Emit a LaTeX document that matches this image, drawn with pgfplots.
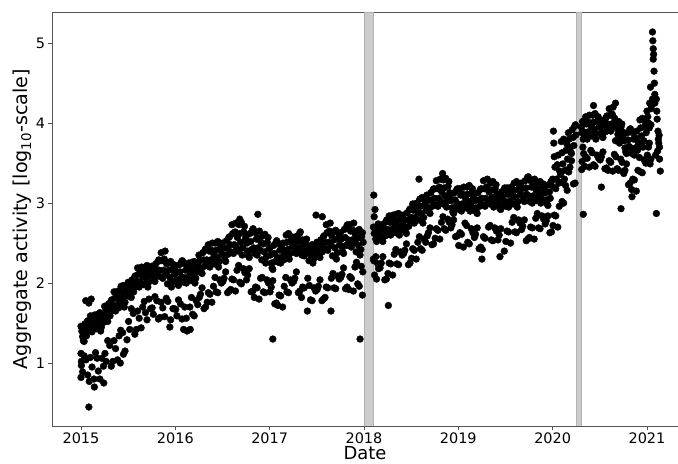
\documentclass[border=0pt]{standalone}
\usepackage{fontspec}
\setmainfont{DejaVu Sans}
\usepackage{pgfplots}
\pgfplotsset{compat=1.18}
\usetikzlibrary{calc}
\definecolor{bandgray}{HTML}{CCCCCC}
\definecolor{axgray}{HTML}{555555}
\begin{document}
\begin{tikzpicture}
\begin{axis}[
  scale only axis,
  width=626bp, height=414bp,
  xmin=-3.69, xmax=75.95,
  ymin=0.2125, ymax=5.39,
  xtick={0,12,24,36,48,60,72},
  xticklabels={2015,2016,2017,2018,2019,2020,2021},
  ytick={1,2,3,4,5},
  tick align=outside, tick pos=left,
  major tick length=3.5bp,
  every tick/.style={axgray, line width=0.8pt},
  axis line style={axgray, line width=0.8pt},
  /pgf/number format/assume math mode=true,
  ticklabel style={font=\fontsize{14.5}{16}\selectfont},
  xlabel={Date},
  ylabel={Aggregate activity [log\textsubscript{10}-scale]},
  xlabel style={font=\fontsize{18}{20}\selectfont, yshift=4bp},
  ylabel style={font=\fontsize{19.2}{21}\selectfont, yshift=-3bp},
  clip=true,
]
\coordinate (sw) at (rel axis cs:0,0);
\coordinate (ne) at (rel axis cs:1,1);
\addplot[fill=bandgray, draw=black!30, line width=0.4pt] coordinates {(36.05,0.2125)(37.15,0.2125)(37.15,5.39)(36.05,5.39)} \closedcycle;
\addplot[fill=bandgray, draw=black!30, line width=0.4pt] coordinates {(62.98,0.2125)(63.58,0.2125)(63.58,5.39)(62.98,5.39)} \closedcycle;
\addplot[only marks, mark=*, mark size=3.4bp, black] coordinates {
(0.0,0.82)(0.05,1.02)(0.0,1.12)(0.1,1.45)(0.6,1.78)(1.0,1.75)(1.3,1.80)(1.0,0.45)
(0.1,1.40)(0.3,1.28)(0.5,1.49)(0.7,1.34)(0.9,1.53)(0.2,0.89)(0.65,1.04)
(1.1,1.40)(1.3,1.53)(1.5,1.45)(1.7,1.60)(1.9,1.50)(1.2,1.07)(1.65,0.80)
(2.1,1.61)(2.3,1.49)(2.5,1.40)(2.7,1.56)(2.9,1.51)(2.2,0.90)(2.65,1.06)(2.9,0.75)(1.7,0.70)
(3.1,1.65)(3.3,1.53)(3.5,1.74)(3.7,1.59)(3.9,1.79)(3.2,1.02)(3.65,1.22)
(4.1,1.66)(4.3,1.81)(4.5,1.72)(4.7,1.90)(4.9,1.78)(4.2,1.28)(4.65,1.04)
(5.1,1.96)(5.3,1.81)(5.5,1.70)(5.7,1.90)(5.9,1.84)(5.0,1.00)(5.6,1.15)(5.3,1.38)
(6.1,1.95)(6.3,1.83)(6.5,2.04)(6.7,1.89)(6.9,2.09)(6.2,1.42)(6.65,1.62)
(7.1,1.96)(7.3,2.11)(7.5,2.02)(7.7,2.20)(7.9,2.08)(7.2,1.65)(7.65,1.44)
(8.1,2.20)(8.3,2.06)(8.5,1.95)(8.7,2.15)(8.9,2.09)(8.2,1.63)(8.65,1.80)
(9.1,2.15)(9.3,2.03)(9.5,2.24)(9.7,2.09)(9.9,2.29)(9.2,1.61)(9.65,1.78)
(10.1,2.08)(10.3,2.28)(10.5,2.16)(10.7,2.40)(10.9,2.24)(10.2,1.76)(10.65,1.58)
(11.1,2.25)(11.3,2.07)(11.5,1.95)(11.7,2.18)(11.9,2.11)(11.3,1.45)(11.7,1.68)
(12.1,2.13)(12.3,1.99)(12.5,2.23)(12.7,2.06)(12.9,2.28)(12.2,1.59)(12.65,1.74)
(13.1,2.01)(13.3,2.16)(13.5,2.07)(13.7,2.25)(13.9,2.13)(13.5,1.40)(13.9,1.42)(13.2,1.70)
(14.1,2.26)(14.3,2.11)(14.5,2.00)(14.7,2.20)(14.9,2.14)(14.2,1.61)(14.65,1.78)
(15.1,2.28)(15.3,2.14)(15.5,2.38)(15.7,2.21)(15.9,2.43)(15.2,1.86)(15.65,1.68)
(16.1,2.22)(16.3,2.40)(16.5,2.29)(16.7,2.50)(16.9,2.36)(16.2,1.88)(16.65,1.76)
(17.1,2.50)(17.3,2.32)(17.5,2.20)(17.7,2.43)(17.9,2.36)(17.2,1.89)(17.65,2.04)
(18.1,2.43)(18.3,2.29)(18.5,2.53)(18.7,2.36)(18.9,2.58)(18.2,2.06)(18.65,1.88)
(19.1,2.39)(19.3,2.62)(19.5,2.48)(19.7,2.75)(19.9,2.57)(19.2,2.05)(19.65,1.90)
(20.1,2.73)(20.3,2.51)(20.5,2.35)(20.7,2.64)(20.9,2.55)(20.2,2.01)(20.65,2.18)(20.2,2.80)
(21.1,2.50)(21.3,2.34)(21.5,2.62)(21.7,2.42)(21.9,2.68)(21.2,2.10)(21.65,1.89)
(22.1,2.37)(22.3,2.55)(22.5,2.44)(22.7,2.65)(22.9,2.51)(22.2,1.95)(22.65,1.80)(22.5,2.86)
(23.1,2.59)(23.3,2.39)(23.5,2.25)(23.7,2.51)(23.9,2.43)(23.2,1.89)(23.65,2.04)
(24.1,2.35)(24.3,2.19)(24.5,2.47)(24.7,2.27)(24.9,2.53)(24.2,1.95)(24.65,1.74)(24.4,1.30)
(25.1,2.26)(25.3,2.41)(25.5,2.32)(25.7,2.50)(25.9,2.38)(25.2,1.85)(25.65,1.70)
(26.1,2.60)(26.3,2.42)(26.5,2.30)(26.7,2.53)(26.9,2.46)(26.2,1.89)(26.65,2.04)
(27.1,2.50)(27.3,2.38)(27.5,2.59)(27.7,2.44)(27.9,2.64)(27.2,2.06)(27.65,1.88)
(28.1,2.35)(28.3,2.48)(28.5,2.40)(28.7,2.55)(28.9,2.45)(28.2,1.95)(28.8,1.65)
(29.1,2.46)(29.3,2.34)(29.5,2.25)(29.7,2.41)(29.9,2.36)(29.2,1.79)(29.65,1.94)(29.9,2.85)
(30.1,2.45)(30.3,2.33)(30.5,2.54)(30.7,2.39)(30.9,2.59)(30.2,1.96)(30.65,1.78)(30.7,2.83)
(31.1,2.43)(31.3,2.63)(31.5,2.51)(31.7,2.75)(31.9,2.59)(31.2,1.95)(31.8,1.65)
(32.1,2.64)(32.3,2.44)(32.5,2.30)(32.7,2.56)(32.9,2.48)(32.2,1.94)(32.65,2.09)
(33.1,2.55)(33.3,2.39)(33.5,2.67)(33.7,2.47)(33.9,2.73)(33.2,2.11)(33.65,1.93)
(34.1,2.47)(34.3,2.65)(34.5,2.54)(34.7,2.75)(34.9,2.61)(34.2,2.08)(34.65,1.90)
(35.1,2.65)(35.3,2.47)(35.5,2.35)(35.7,2.58)(35.9,2.51)(35.2,1.99)(35.65,2.21)(35.5,1.30)(35.8,1.85)
(37.25,3.10)(37.4,2.92)(37.3,2.83)(37.3,2.62)(37.5,2.55)(37.7,2.71)(37.9,2.58)(37.35,2.10)(37.75,2.24)(37.5,2.33)
(38.1,2.65)(38.3,2.53)(38.5,2.74)(38.7,2.59)(38.9,2.79)(38.2,2.25)(38.65,2.04)
(39.1,2.61)(39.3,2.76)(39.5,2.67)(39.7,2.85)(39.9,2.73)(39.2,2.25)(39.65,2.10)(39.1,1.72)
(40.1,2.86)(40.3,2.71)(40.5,2.60)(40.7,2.80)(40.9,2.74)(40.2,2.24)(40.65,2.39)
(41.1,2.78)(41.3,2.64)(41.5,2.88)(41.7,2.71)(41.9,2.93)(41.2,2.41)(41.65,2.23)
(42.1,2.76)(42.3,2.91)(42.5,2.82)(42.7,3.00)(42.9,2.88)(42.2,2.43)(42.65,2.30)
(43.1,3.05)(43.3,2.87)(43.5,2.75)(43.7,2.98)(43.9,2.91)(43.2,2.43)(43.65,2.55)(43.0,3.30)
(44.1,3.03)(44.3,2.89)(44.5,3.13)(44.7,2.96)(44.9,3.18)(44.2,2.63)(44.65,2.48)
(45.1,2.98)(45.3,3.18)(45.5,3.06)(45.7,3.30)(45.9,3.14)(45.2,2.68)(45.65,2.55)
(46.1,3.29)(46.3,3.09)(46.5,2.95)(46.7,3.21)(46.9,3.13)(46.2,2.68)(46.65,2.80)(46.0,3.37)
(47.1,3.03)(47.3,2.89)(47.5,3.13)(47.7,2.96)(47.9,3.18)(47.2,2.73)(47.65,2.58)
(48.1,2.92)(48.3,3.10)(48.5,2.99)(48.7,3.20)(48.9,3.06)(48.2,2.63)(48.65,2.45)
(49.1,3.20)(49.3,3.02)(49.5,2.90)(49.7,3.13)(49.9,3.06)(49.2,2.51)(49.65,2.68)
(50.1,3.03)(50.3,2.89)(50.5,3.13)(50.7,2.96)(50.9,3.18)(50.2,2.61)(50.65,2.43)
(51.1,2.98)(51.3,3.18)(51.5,3.06)(51.7,3.30)(51.9,3.14)(51.2,2.58)(51.0,2.30)
(52.1,3.25)(52.3,3.07)(52.5,2.95)(52.7,3.18)(52.9,3.11)(52.2,2.54)(52.65,2.69)
(53.1,3.05)(53.3,2.93)(53.5,3.14)(53.7,2.99)(53.9,3.19)(53.2,2.60)(53.3,2.33)
(54.1,2.96)(54.3,3.11)(54.5,3.02)(54.7,3.20)(54.9,3.08)(54.2,2.65)(54.65,2.50)
(55.1,3.25)(55.3,3.07)(55.5,2.95)(55.7,3.18)(55.9,3.11)(55.2,2.64)(55.65,2.79)
(56.1,3.18)(56.3,3.04)(56.5,3.28)(56.7,3.11)(56.9,3.33)(56.2,2.71)(56.65,2.53)
(57.1,3.02)(57.3,3.20)(57.5,3.09)(57.7,3.30)(57.9,3.16)(57.2,2.70)(57.65,2.55)
(58.1,3.26)(58.3,3.11)(58.5,3.00)(58.7,3.20)(58.9,3.14)(58.2,2.69)(58.65,2.84)
(59.1,3.13)(59.3,2.99)(59.5,3.23)(59.7,3.06)(59.9,3.28)(59.2,2.78)(59.65,2.63)
(60.1,3.20)(60.3,3.45)(60.5,3.30)(60.7,3.60)(60.9,3.40)(60.2,2.85)(60.65,2.70)(60.1,3.90)(60.15,3.75)
(61.1,3.77)(61.3,3.49)(61.5,3.30)(61.7,3.66)(61.9,3.55)(61.2,3.02)(61.65,3.22)
(62.1,3.80)(62.3,3.64)(62.5,3.92)(62.7,3.72)(62.9,3.98)(62.2,3.45)(62.65,3.24)
(63.7,3.88)(63.8,4.02)(63.9,3.80)(63.75,3.52)(63.95,3.62)(63.9,2.86)
(64.1,3.82)(64.3,3.99)(64.5,3.89)(64.7,4.10)(64.9,3.96)(64.2,3.58)(64.65,3.45)
(65.1,4.10)(65.3,3.92)(65.5,3.80)(65.7,4.03)(65.9,3.96)(65.2,3.48)(65.65,3.60)(65.2,4.22)
(66.1,3.95)(66.3,3.83)(66.5,4.04)(66.7,3.89)(66.9,4.09)(66.2,3.58)(66.65,3.43)(66.2,3.20)
(67.1,3.92)(67.3,4.10)(67.5,3.99)(67.7,4.20)(67.9,4.06)(67.2,3.53)(67.65,3.40)(68.0,4.25)
(68.1,4.01)(68.3,3.86)(68.5,3.75)(68.7,3.95)(68.9,3.89)(68.2,3.43)(68.65,3.55)
(69.1,3.78)(69.3,3.64)(69.5,3.88)(69.7,3.71)(69.9,3.93)(69.2,3.41)(69.65,3.23)(68.7,2.93)
(70.1,3.62)(70.3,3.80)(70.5,3.69)(70.7,3.90)(70.9,3.76)(70.2,3.30)(70.65,3.15)(70.1,3.08)
(71.1,4.04)(71.3,3.84)(71.5,3.70)(71.7,3.96)(71.9,3.88)(71.2,3.39)(71.65,3.54)
(72.1,4.08)(72.3,3.94)(72.5,4.18)(72.2,3.70)(72.4,3.49)(72.45,4.45)
(72.7,5.14)(72.75,5.03)(72.8,4.93)(72.85,4.86)(72.8,4.80)(72.9,4.65)(72.95,4.50)(73.0,4.36)(72.7,4.30)(73.0,4.25)(72.6,4.22)
(73.2,4.30)(73.3,4.05)(73.4,3.90)(73.5,3.75)(73.6,3.70)(73.55,3.85)(73.7,3.40)(73.2,2.87)(73.1,3.60)
(0.0,1.46)(0.2,1.33)(0.4,1.27)(0.6,1.42)(0.8,1.52)(0.05,0.97)(0.4,1.09)(0.85,0.85)
(1.0,1.45)(1.2,1.59)(1.4,1.39)(1.6,1.54)(1.8,1.43)(1.05,0.77)(1.4,0.95)(1.85,1.13)
(2.0,1.43)(2.2,1.55)(2.4,1.63)(2.6,1.45)(2.8,1.60)(2.05,1.06)(2.4,0.80)(2.85,0.96)
(3.0,1.71)(3.2,1.58)(3.4,1.52)(3.6,1.67)(3.8,1.77)(3.05,1.12)(3.4,1.28)(3.85,0.96)
(4.0,1.72)(4.2,1.89)(4.4,1.65)(4.6,1.83)(4.8,1.69)(4.05,1.02)(4.4,1.18)(4.85,1.34)
(5.0,1.73)(5.2,1.88)(5.4,1.97)(5.6,1.76)(5.8,1.94)(5.05,1.41)(5.4,1.11)(5.85,1.29)
(6.0,2.01)(6.2,1.88)(6.4,1.82)(6.6,1.97)(6.8,2.07)(6.05,1.52)(6.4,1.68)(6.85,1.36)
(7.0,2.02)(7.2,2.19)(7.4,1.95)(7.6,2.13)(7.8,1.99)(7.05,1.42)(7.4,1.56)(7.85,1.70)
(8.0,1.98)(8.2,2.13)(8.4,2.22)(8.6,2.01)(8.8,2.19)(8.05,1.77)(8.4,1.54)(8.85,1.68)
(9.0,2.21)(9.2,2.08)(9.4,2.02)(9.6,2.17)(9.8,2.27)(9.05,1.69)(9.4,1.83)(9.85,1.55)
(10.0,2.16)(10.2,2.38)(10.4,2.06)(10.6,2.30)(10.8,2.12)(10.05,1.57)(10.4,1.69)(10.85,1.81)
(11.0,1.99)(11.2,2.16)(11.4,2.27)(11.6,2.02)(11.8,2.23)(11.05,1.77)(11.4,1.54)(11.85,1.68)
(12.0,2.20)(12.2,2.04)(12.4,1.97)(12.6,2.14)(12.8,2.27)(12.05,1.67)(12.4,1.79)(12.85,1.55)
(13.0,2.07)(13.2,2.24)(13.4,2.00)(13.6,2.18)(13.8,2.04)(13.05,1.42)(13.4,1.56)(13.85,1.70)
(14.0,2.03)(14.2,2.18)(14.4,2.27)(14.6,2.06)(14.8,2.24)(14.05,1.82)(14.4,1.59)(14.85,1.73)
(15.0,2.35)(15.2,2.19)(15.4,2.12)(15.6,2.29)(15.8,2.42)(15.05,1.82)(15.4,1.94)(15.85,1.70)
(16.0,2.29)(16.2,2.48)(16.4,2.20)(16.6,2.41)(16.8,2.26)(16.05,1.76)(16.4,1.86)(16.85,1.96)
(17.0,2.24)(17.2,2.41)(17.4,2.52)(17.6,2.27)(17.8,2.48)(17.05,2.07)(17.4,1.88)(17.85,2.00)
(18.0,2.50)(18.2,2.34)(18.4,2.27)(18.6,2.44)(18.8,2.57)(18.05,2.02)(18.4,2.14)(18.85,1.90)
(19.0,2.48)(19.2,2.73)(19.4,2.37)(19.6,2.64)(19.8,2.44)(19.05,1.92)(19.4,2.04)(19.85,2.16)
(20.0,2.40)(20.2,2.62)(20.4,2.76)(20.6,2.44)(20.8,2.71)(20.05,2.22)(20.4,1.99)(20.85,2.13)
(21.0,2.58)(21.2,2.40)(21.4,2.32)(21.6,2.52)(21.8,2.66)(21.05,2.04)(21.4,2.18)(21.85,1.90)
(22.0,2.44)(22.2,2.63)(22.4,2.35)(22.6,2.56)(22.8,2.41)(22.05,1.82)(22.4,1.94)(22.85,2.06)
(23.0,2.29)(23.2,2.49)(23.4,2.61)(23.6,2.33)(23.8,2.57)(23.05,2.07)(23.4,1.88)(23.85,2.00)
(24.0,2.43)(24.2,2.25)(24.4,2.17)(24.6,2.37)(24.8,2.51)(24.05,1.89)(24.4,2.03)(24.85,1.75)
(25.0,2.32)(25.2,2.49)(25.4,2.25)(25.6,2.43)(25.8,2.29)(25.05,1.72)(25.4,1.84)(25.85,1.96)
(26.0,2.34)(26.2,2.51)(26.4,2.62)(26.6,2.37)(26.8,2.58)(26.05,2.07)(26.4,1.88)(26.85,2.00)
(27.0,2.56)(27.2,2.43)(27.4,2.37)(27.6,2.52)(27.8,2.62)(27.05,2.02)(27.4,2.14)(27.85,1.90)
(28.0,2.40)(28.2,2.54)(28.4,2.34)(28.6,2.49)(28.8,2.38)(28.05,1.82)(28.4,1.94)(28.85,2.06)
(29.0,2.28)(29.2,2.40)(29.4,2.48)(29.6,2.30)(29.8,2.45)(29.05,1.97)(29.4,1.78)(29.85,1.90)
(30.0,2.51)(30.2,2.38)(30.4,2.32)(30.6,2.47)(30.8,2.57)(30.05,1.92)(30.4,2.04)(30.85,1.80)
(31.0,2.51)(31.2,2.73)(31.4,2.41)(31.6,2.65)(31.8,2.47)(31.05,1.82)(31.4,1.94)(31.85,2.06)
(32.0,2.34)(32.2,2.54)(32.4,2.66)(32.6,2.38)(32.8,2.62)(32.05,2.12)(32.4,1.93)(32.85,2.05)
(33.0,2.63)(33.2,2.45)(33.4,2.37)(33.6,2.57)(33.8,2.71)(33.05,2.07)(33.4,2.19)(33.85,1.95)
(34.0,2.54)(34.2,2.73)(34.4,2.45)(34.6,2.66)(34.8,2.51)(34.05,1.92)(34.4,2.06)(34.85,2.20)
(35.0,2.39)(35.2,2.56)(35.4,2.67)(35.6,2.42)(35.8,2.63)(35.05,2.26)(35.4,1.96)(35.85,2.14)
(37.2,2.70)(37.45,2.66)(37.6,2.52)(37.8,2.74)(37.95,2.62)(37.25,2.28)(37.6,2.05)(37.85,2.18)(37.2,2.30)
(38.0,2.71)(38.2,2.58)(38.4,2.52)(38.6,2.67)(38.8,2.77)(38.05,2.19)(38.4,2.33)(38.85,2.05)
(39.0,2.67)(39.2,2.84)(39.4,2.60)(39.6,2.78)(39.8,2.64)(39.05,2.12)(39.4,2.24)(39.85,2.36)
(40.0,2.63)(40.2,2.78)(40.4,2.87)(40.6,2.66)(40.8,2.84)(40.05,2.42)(40.4,2.23)(40.85,2.35)
(41.0,2.85)(41.2,2.69)(41.4,2.62)(41.6,2.79)(41.8,2.92)(41.05,2.37)(41.4,2.49)(41.85,2.25)
(42.0,2.82)(42.2,2.99)(42.4,2.75)(42.6,2.93)(42.8,2.79)(42.05,2.31)(42.4,2.41)(42.85,2.51)
(43.0,2.79)(43.2,2.96)(43.4,3.07)(43.6,2.82)(43.8,3.03)(43.05,2.58)(43.4,2.41)(43.85,2.51)
(44.0,3.10)(44.2,2.94)(44.4,2.87)(44.6,3.04)(44.8,3.17)(44.05,2.59)(44.4,2.69)(44.85,2.49)
(45.0,3.06)(45.2,3.28)(45.4,2.96)(45.6,3.20)(45.8,3.02)(45.05,2.56)(45.4,2.66)(45.85,2.76)
(46.0,2.99)(46.2,3.19)(46.4,3.31)(46.6,3.03)(46.8,3.27)(46.05,2.83)(46.4,2.66)(46.85,2.76)
(47.0,3.10)(47.2,2.94)(47.4,2.87)(47.6,3.04)(47.8,3.17)(47.05,2.69)(47.4,2.79)(47.85,2.59)
(48.0,2.99)(48.2,3.18)(48.4,2.90)(48.6,3.11)(48.8,2.96)(48.05,2.47)(48.4,2.61)(48.85,2.75)
(49.0,2.94)(49.2,3.11)(49.4,3.22)(49.6,2.97)(49.8,3.18)(49.05,2.72)(49.4,2.49)(49.85,2.63)
(50.0,3.10)(50.2,2.94)(50.4,2.87)(50.6,3.04)(50.8,3.17)(50.05,2.57)(50.4,2.69)(50.85,2.45)
(51.0,3.06)(51.2,3.28)(51.4,2.96)(51.6,3.20)(51.8,3.02)(51.05,2.42)(51.4,2.56)(51.85,2.70)
(52.0,2.99)(52.2,3.16)(52.4,3.27)(52.6,3.02)(52.8,3.23)(52.05,2.72)(52.4,2.53)(52.85,2.65)
(53.0,3.11)(53.2,2.98)(53.4,2.92)(53.6,3.07)(53.8,3.17)(53.05,2.54)(53.4,2.68)(53.85,2.40)
(54.0,3.02)(54.2,3.19)(54.4,2.95)(54.6,3.13)(54.8,2.99)(54.05,2.52)(54.4,2.64)(54.85,2.76)
(55.0,2.99)(55.2,3.16)(55.4,3.27)(55.6,3.02)(55.8,3.23)(55.05,2.82)(55.4,2.63)(55.85,2.75)
(56.0,3.25)(56.2,3.09)(56.4,3.02)(56.6,3.19)(56.8,3.32)(56.05,2.67)(56.4,2.79)(56.85,2.55)
(57.0,3.09)(57.2,3.28)(57.4,3.00)(57.6,3.21)(57.8,3.06)(57.05,2.57)(57.4,2.69)(57.85,2.81)
(58.0,3.03)(58.2,3.18)(58.4,3.27)(58.6,3.06)(58.8,3.24)(58.05,2.87)(58.4,2.68)(58.85,2.80)
(59.0,3.20)(59.2,3.04)(59.4,2.97)(59.6,3.14)(59.8,3.27)(59.05,2.74)(59.4,2.84)(59.85,2.64)
(60.0,3.30)(60.2,3.58)(60.4,3.18)(60.6,3.48)(60.8,3.25)(60.05,2.72)(60.4,2.84)(60.85,2.96)
(61.0,3.36)(61.2,3.63)(61.4,3.80)(61.6,3.41)(61.8,3.74)(61.05,3.26)(61.4,3.00)(61.85,3.16)
(62.0,3.88)(62.2,3.70)(62.4,3.62)(62.6,3.82)(62.8,3.96)(62.05,3.39)(62.4,3.53)(62.85,3.25)
(62.95,3.85)(63.65,3.95)(63.85,3.70)(63.7,3.42)
(64.0,3.89)(64.2,4.08)(64.4,3.80)(64.6,4.01)(64.8,3.86)(64.05,3.46)(64.4,3.56)(64.85,3.66)
(65.0,3.84)(65.2,4.01)(65.4,4.12)(65.6,3.87)(65.8,4.08)(65.05,3.63)(65.4,3.46)(65.85,3.56)
(66.0,4.01)(66.2,3.88)(66.4,3.82)(66.6,3.97)(66.8,4.07)(66.05,3.54)(66.4,3.64)(66.85,3.44)
(67.0,3.99)(67.2,4.18)(67.4,3.90)(67.6,4.11)(67.8,3.96)(67.05,3.41)(67.4,3.51)(67.85,3.61)
(68.0,3.78)(68.2,3.93)(68.4,4.02)(68.6,3.81)(68.8,3.99)(68.05,3.58)(68.4,3.41)(68.85,3.51)
(69.0,3.85)(69.2,3.69)(69.4,3.62)(69.6,3.79)(69.8,3.92)(69.05,3.37)(69.4,3.49)(69.85,3.25)
(70.0,3.69)(70.2,3.88)(70.4,3.60)(70.6,3.81)(70.8,3.66)(70.05,3.17)(70.4,3.29)(70.85,3.41)
(71.0,3.74)(71.2,3.94)(71.4,4.06)(71.6,3.78)(71.8,4.02)(71.05,3.57)(71.4,3.38)(71.85,3.50)
(72.0,4.15)(72.2,4.00)(72.35,4.25)(72.5,3.98)(72.05,3.60)(72.3,3.75)(72.5,3.55)
(73.25,4.15)(73.45,3.80)(73.6,3.55)(73.35,3.65)
};
\end{axis}
\pgfresetboundingbox
\path ($(sw)+(-52bp,-38bp)$) rectangle ($(ne)+(0bp,12bp)$);
\end{tikzpicture}
\end{document}
